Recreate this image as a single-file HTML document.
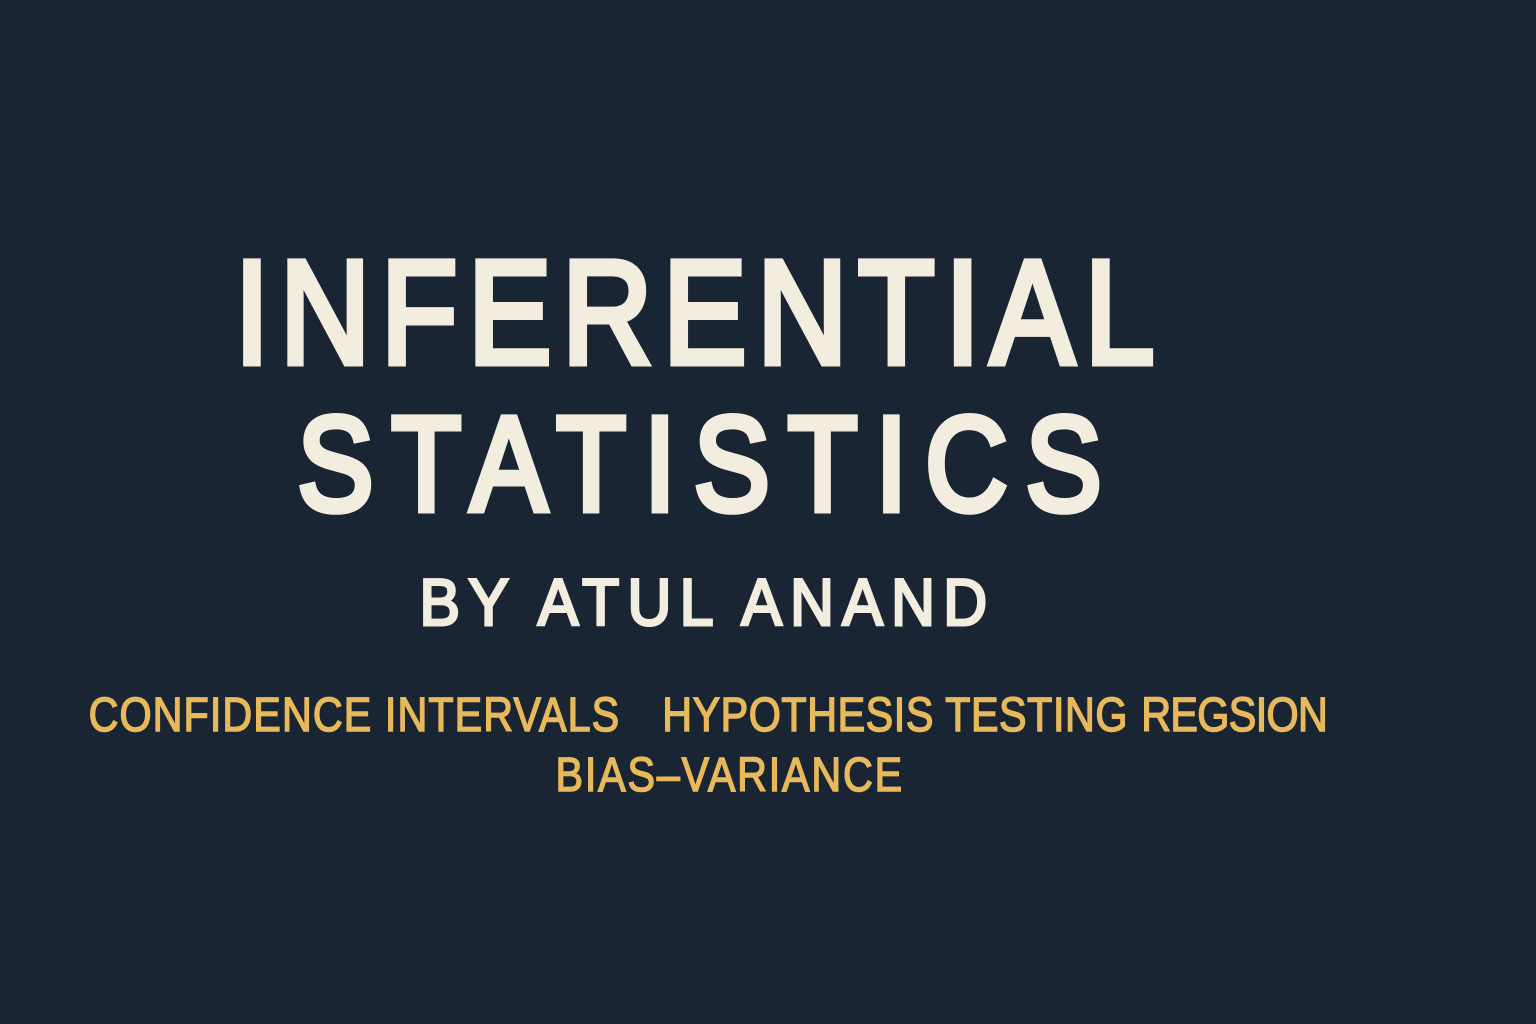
<!DOCTYPE html>
<html>
<head>
<meta charset="utf-8">
<style>
html,body{margin:0;padding:0;background:#1a2533;}
svg{display:block;}
</style>
</head>
<body>
<svg width="1536" height="1024" viewBox="0 0 1536 1024">
  <rect x="0" y="0" width="1536" height="1024" fill="#1a2533"/>
  <g font-family="'Liberation Sans', sans-serif">
    <g transform="scale(0.85,1)">
      <text x="276" y="363" font-size="147" fill="#f3ede0" stroke="#f3ede0" stroke-width="7" stroke-linejoin="miter" textLength="1082" lengthAdjust="spacing">INFERENTIAL</text>
      <text x="350" y="510" font-size="134" fill="#f3ede0" stroke="#f3ede0" stroke-width="7" textLength="946" lengthAdjust="spacing">STATISTICS</text>
    </g>
    <g transform="scale(0.92,1)">
      <text x="456" y="625" font-size="66" fill="#f3ede0" stroke="#f3ede0" stroke-width="3" textLength="617" lengthAdjust="spacing">BY ATUL ANAND</text>
    </g>
    <g transform="scale(0.86,1)" fill="#e8b95a" stroke="#e8b95a" stroke-width="1.5">
      <text x="103" y="731" font-size="48" textLength="617" lengthAdjust="spacing">CONFIDENCE INTERVALS</text>
      <text x="770" y="731" font-size="48" textLength="541" lengthAdjust="spacing">HYPOTHESIS TESTING</text>
      <text x="1327" y="731" font-size="48" textLength="217" lengthAdjust="spacing">REGSION</text>
      <text x="646" y="791" font-size="48" textLength="403" lengthAdjust="spacing">BIAS–VARIANCE</text>
    </g>
  </g>
</svg>
</body>
</html>
